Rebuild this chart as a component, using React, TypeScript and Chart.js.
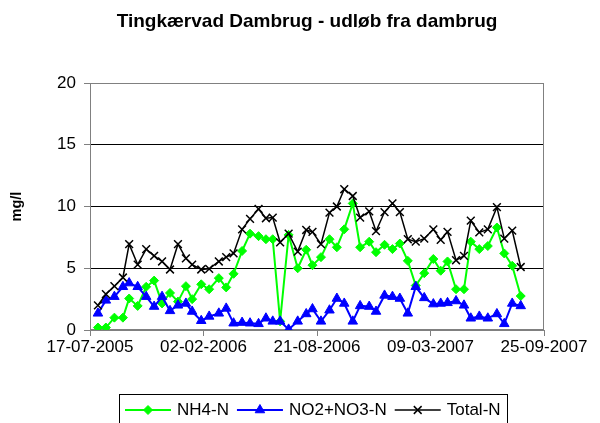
import React, { useEffect, useRef } from "react";
import { Chart, registerables } from "chart.js";

Chart.register(...registerables);

const FONT = "'Liberation Sans', Arial, sans-serif";

const chartTitle = "Tingkærvad Dambrug - udløb fra dambrug";
const yAxisTitle = "mg/l";
const xTickLabels = ["17-07-2005", "02-02-2006", "21-08-2006", "09-03-2007", "25-09-2007"];
const axisStart = "2005-07-17";

const sampleDates = [
  "2005-07-31", "2005-08-14", "2005-08-29", "2005-09-13", "2005-09-24", "2005-10-09",
  "2005-10-24", "2005-11-07", "2005-11-21", "2005-12-05", "2005-12-19", "2006-01-02",
  "2006-01-13", "2006-01-29", "2006-02-12", "2006-03-01", "2006-03-14", "2006-03-27",
  "2006-04-11", "2006-04-25", "2006-05-10", "2006-05-23", "2006-06-04", "2006-06-17",
  "2006-07-02", "2006-07-18", "2006-08-02", "2006-08-13", "2006-08-28", "2006-09-12",
  "2006-09-25", "2006-10-08", "2006-10-23", "2006-11-05", "2006-11-21", "2006-12-03",
  "2006-12-18", "2007-01-01", "2007-01-14", "2007-01-28", "2007-02-11", "2007-02-26",
  "2007-03-14", "2007-03-27", "2007-04-08", "2007-04-23", "2007-05-07", "2007-05-19",
  "2007-06-03", "2007-06-18", "2007-07-04", "2007-07-17", "2007-07-31", "2007-08-15",
];

const nh4N = [
  0.2, 0.2, 1.0, 1.0, 2.55, 1.95, 3.5, 4.0, 2.15, 3.0, 2.3, 3.55,
  2.5, 3.7, 3.3, 4.2, 3.45, 4.55, 6.4, 7.8, 7.6, 7.35, 7.35, 0.7,
  7.7, 5.0, 6.5, 5.25, 5.9, 7.35, 6.7, 8.15, 10.25, 6.7, 7.15, 6.3,
  6.9, 6.55, 7.0, 5.6, 3.6, 4.6, 5.75, 4.8, 5.55, 3.3, 3.3, 7.15,
  6.55, 6.8, 8.3, 6.2, 5.2, 2.75,
];

const no2no3N = [
  1.35, 2.4, 2.7, 3.5, 3.8, 3.5, 2.7, 1.9, 2.7, 1.55, 2.0, 2.15,
  1.5, 0.75, 1.1, 1.35, 1.75, 0.55, 0.6, 0.55, 0.5, 0.95, 0.7, 0.7,
  0.05, 0.7, 1.3, 1.7, 0.7, 1.6, 2.55, 2.15, 0.7, 1.95, 1.9, 1.5,
  2.8, 2.7, 2.55, 1.35, 3.5, 2.6, 2.1, 2.15, 2.2, 2.35, 2.0, 0.95,
  1.1, 0.95, 1.3, 0.5, 2.15, 1.95,
];

const totalN = [
  2.0, 2.9, 3.55, 4.25, 6.95, 5.3, 6.55, 6.0, 5.55, 4.9, 6.95, 5.8,
  5.3, 4.9, 4.95, 5.55, 5.9, 6.2, 8.15, 9.0, 9.8, 9.05, 9.1, 7.1,
  7.8, 6.35, 8.1, 7.95, 6.95, 9.5, 10.0, 11.4, 10.85, 9.1, 9.6, 8.0,
  9.55, 10.25, 9.55, 7.35, 7.15, 7.4, 8.15, 7.3, 7.95, 5.65, 6.0, 8.85,
  7.9, 8.15, 9.95, 7.4, 8.05, 5.1,
];

const DAY = 86400000;
const toUTC = (s: string) => {
  const [y, m, d] = s.split("-").map(Number);
  return Date.UTC(y, m - 1, d);
};
const dayOffset = (s: string) => Math.round((toUTC(s) - toUTC(axisStart)) / DAY);
const pointsOf = (vals: number[]) => vals.map((v, i) => ({ x: dayOffset(sampleDates[i]), y: v }));

function drawMarker(ctx: CanvasRenderingContext2D, style: string, x: number, y: number, r: number, color: string, lw: number) {
  ctx.save();
  ctx.fillStyle = color;
  ctx.strokeStyle = color;
  ctx.lineWidth = lw;
  ctx.beginPath();
  if (style === "rectRot") {
    ctx.moveTo(x, y - r);
    ctx.lineTo(x + r, y);
    ctx.lineTo(x, y + r);
    ctx.lineTo(x - r, y);
    ctx.closePath();
    ctx.fill();
    ctx.stroke();
  } else if (style === "triangle") {
    for (let k = 0; k < 3; k++) {
      const a = (k * 2 * Math.PI) / 3;
      const px = x + Math.sin(a) * r;
      const py = y - Math.cos(a) * r;
      if (k === 0) ctx.moveTo(px, py);
      else ctx.lineTo(px, py);
    }
    ctx.closePath();
    ctx.fill();
    ctx.stroke();
  } else {
    const o = r * Math.SQRT1_2;
    ctx.moveTo(x - o, y - o);
    ctx.lineTo(x + o, y + o);
    ctx.moveTo(x + o, y - o);
    ctx.lineTo(x - o, y + o);
    ctx.stroke();
  }
  ctx.restore();
}

const plotBorderPlugin = {
  id: "plotBorder",
  beforeDatasetsDraw(chart: any) {
    const { ctx, chartArea } = chart;
    const l = Math.round(chartArea.left) + 0.5;
    const t = Math.round(chartArea.top) + 0.5;
    const r = Math.round(chartArea.right) - 0.5;
    const b = Math.round(chartArea.bottom) - 0.5;
    ctx.save();
    ctx.strokeStyle = "#808080";
    ctx.lineWidth = 1;
    ctx.strokeRect(l, t, r - l, b - t);
    ctx.restore();
  },
};

const boxLegendPlugin = {
  id: "boxLegend",
  afterDraw(chart: any) {
    const ctx: CanvasRenderingContext2D = chart.ctx;
    const datasets = chart.data.datasets;
    ctx.save();
    ctx.font = `17px ${FONT}`;
    const symW = 46;
    const gapSym = 6;
    const gapItem = 8;
    const padX = 6;
    const startX = 125;
    const cy = 410;
    let x = startX;
    const order = [0, 1, 2];
    order.forEach((i, n) => {
      const ds = datasets[i];
      ctx.strokeStyle = ds.borderColor;
      ctx.lineWidth = ds.borderWidth;
      ctx.beginPath();
      ctx.moveTo(x, cy);
      ctx.lineTo(x + symW, cy);
      ctx.stroke();
      drawMarker(ctx, ds.pointStyle, x + symW / 2, cy, ds.pointRadius, ds.borderColor, ds.pointBorderWidth);
      ctx.fillStyle = "#000";
      ctx.textAlign = "left";
      ctx.textBaseline = "middle";
      ctx.fillText(ds.label, x + symW + gapSym, cy);
      const w = ctx.measureText(ds.label).width;
      x += symW + gapSym + w + (n < order.length - 1 ? gapItem : 0);
    });
    ctx.strokeStyle = "#000";
    ctx.lineWidth = 1;
    const left = Math.round(startX - padX) + 0.5;
    const right = Math.round(x + padX) + 0.5;
    ctx.strokeRect(left, 394.5, right - left, 40);
    ctx.restore();
  },
};

export default function App() {
  const canvasRef = useRef<HTMLCanvasElement | null>(null);

  useEffect(() => {
    if (!canvasRef.current) return;
    const chart = new Chart(canvasRef.current, {
      type: "line",
      data: {
        datasets: [
          {
            label: "NH4-N",
            data: pointsOf(nh4N),
            borderColor: "#00FF00",
            backgroundColor: "#00FF00",
            borderWidth: 2,
            pointStyle: "rectRot",
            pointRadius: 4.5,
            pointBorderWidth: 1,
            pointBackgroundColor: "#00FF00",
            tension: 0,
            order: 3,
          },
          {
            label: "NO2+NO3-N",
            data: pointsOf(no2no3N),
            borderColor: "#0000FF",
            backgroundColor: "#0000FF",
            borderWidth: 2,
            pointStyle: "triangle",
            pointRadius: 5.5,
            pointBorderWidth: 1,
            pointBackgroundColor: "#0000FF",
            tension: 0,
            order: 2,
          },
          {
            label: "Total-N",
            data: pointsOf(totalN),
            borderColor: "#000000",
            backgroundColor: "#000000",
            borderWidth: 1.5,
            pointStyle: "crossRot",
            pointRadius: 5.5,
            pointBorderWidth: 1.5,
            tension: 0,
            order: 1,
          },
        ] as any,
      },
      options: {
        responsive: false,
        animation: false,
        devicePixelRatio: 1,
        layout: { padding: { left: 14, right: 0, top: 0, bottom: 0 } },
        plugins: {
          legend: { display: false },
          tooltip: { enabled: false },
          title: {
            display: true,
            text: chartTitle,
            color: "#000",
            font: { family: FONT, size: 19, weight: "bold" },
            padding: { top: 10.6, bottom: 49.6 },
          },
        },
        scales: {
          x: {
            type: "linear",
            min: 0,
            max: 800,
            afterFit: (s: any) => {
              s.paddingRight = 56;
              s.height = 93;
            },
            ticks: {
              stepSize: 200,
              autoSkip: false,
              maxRotation: 0,
              minRotation: 0,
              color: "#000",
              padding: 1,
              font: { family: FONT, size: 17 },
              callback: (_v: any, i: number) => xTickLabels[i],
            },
            grid: {
              drawOnChartArea: false,
              drawTicks: true,
              tickLength: 6,
              color: "#808080",
            },
            border: { color: "#808080" },
          },
          y: {
            min: 0,
            max: 20,
            afterFit: (s: any) => {
              s.width = 76;
            },
            ticks: {
              stepSize: 5,
              color: "#000",
              padding: 8,
              font: { family: FONT, size: 17 },
            },
            grid: {
              color: "#000",
              tickLength: 6,
              tickColor: "#808080",
            },
            border: { color: "#808080" },
            title: {
              display: true,
              text: yAxisTitle,
              color: "#000",
              font: { family: FONT, size: 14.5, weight: "bold" },
              padding: { top: -5.7, bottom: 0 },
            },
          },
        },
      } as any,
      plugins: [plotBorderPlugin, boxLegendPlugin],
    });
    return () => chart.destroy();
  }, []);

  return (
    <div style={{ position: "fixed", left: 0, top: 0, width: 600, height: 423, background: "#fff" }}>
      <canvas ref={canvasRef} width={600} height={423} style={{ display: "block" }} />
    </div>
  );
}
